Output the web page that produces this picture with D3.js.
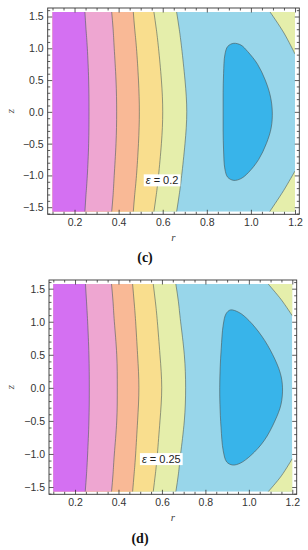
<!DOCTYPE html>
<html>
<head>
<meta charset="utf-8">
<script src="https://cdn.jsdelivr.net/npm/d3@7"></script>
<style>
  body { margin: 0; background: #fff; }
  svg { display: block; }
  .tick text { font-family: "Liberation Sans", Arial, sans-serif; font-size: 10.5px; fill: #333; }
  .tick line { stroke: #333; stroke-width: 0.8; }
</style>
</head>
<body>
<svg id="chart" width="308" height="550"></svg>
<script>
// z samples at which the contour boundaries were read
const zGrid = [-1.5708, -1.3, -1.0, -0.5, 0, 0.5, 1.0, 1.3, 1.5708];

// r position of each contour boundary (left to right), eps = 0.2
const boundsC = [
  [0.247, 0.252, 0.258, 0.264, 0.2656, 0.264, 0.258, 0.252, 0.247],
  [0.3685, 0.375, 0.380, 0.388, 0.391, 0.388, 0.380, 0.375, 0.3685],
  [0.4665, 0.473, 0.481, 0.490, 0.494, 0.490, 0.481, 0.473, 0.4665],
  [0.560, 0.571, 0.581, 0.594, 0.600, 0.594, 0.581, 0.571, 0.560],
  [0.663, 0.675, 0.686, 0.701, 0.709, 0.701, 0.686, 0.675, 0.663]
];
// eps = 0.25
const boundsD = [
  [0.247, 0.253, 0.258, 0.264, 0.2657, 0.264, 0.258, 0.253, 0.248],
  [0.368, 0.375, 0.381, 0.392, 0.3945, 0.392, 0.381, 0.375, 0.368],
  [0.465, 0.472, 0.479, 0.488, 0.494, 0.488, 0.479, 0.472, 0.465],
  [0.560, 0.570, 0.579, 0.591, 0.599, 0.591, 0.579, 0.570, 0.560],
  [0.664, 0.676, 0.686, 0.703, 0.709, 0.703, 0.686, 0.676, 0.664]
];

// inner closed contour (r, z)
const ovalC = [
  [0.922, 1.078], [0.955, 1.05], [0.985, 0.95], [1.030, 0.75], [1.065, 0.50],
  [1.088, 0.25], [1.097, 0.0], [1.092, -0.25], [1.070, -0.50], [1.035, -0.75],
  [0.990, -0.95], [0.955, -1.05], [0.922, -1.078], [0.895, -1.03], [0.882, -0.90],
  [0.876, -0.60], [0.874, -0.30], [0.874, 0.0], [0.874, 0.30], [0.876, 0.60],
  [0.882, 0.90], [0.895, 1.03]
];
const ovalD = [
  [0.915, 1.178], [0.955, 1.14], [1.000, 1.02], [1.060, 0.78], [1.110, 0.50],
  [1.145, 0.22], [1.155, 0.0], [1.148, -0.25], [1.120, -0.50], [1.070, -0.80],
  [1.010, -1.02], [0.960, -1.14], [0.925, -1.167], [0.898, -1.12], [0.882, -0.95],
  [0.872, -0.60], [0.867, -0.25], [0.866, 0.0], [0.868, 0.30], [0.873, 0.60],
  [0.882, 0.95], [0.895, 1.12]
];

// corner contours at the right edge
const cornersC = [
  [[1.087, 1.5708], [1.150, 1.24], [1.2, 0.91]],
  [[1.085, -1.5708], [1.148, -1.24], [1.2, -0.93]]
];
const cornersD = [
  [[1.089, 1.5708], [1.150, 1.33], [1.2, 1.09]],
  [[1.089, -1.5708], [1.150, -1.33], [1.2, -1.07]]
];

const rTicks = [0.2, 0.4, 0.6, 0.8, 1.0, 1.2];
const zTicks = [-1.5, -1.0, -0.5, 0.0, 0.5, 1.0, 1.5];

// fill colours from left region to inner region
const bandColors = ["#d470f2", "#eea6d1", "#f9b996", "#f9de8e", "#e5eeab", "#98d6ea"];
const ovalColor = "#38b4ea";
const lineColor = "#4d5c5c";

const svg = d3.select("#chart");

function drawPanel(opt) {
  const g = svg.append("g");
  const x = d3.scaleLinear().domain([0.1, 1.2]).range([opt.px0, opt.px1]);
  const y = d3.scaleLinear().domain([-Math.PI / 2, Math.PI / 2]).range([opt.py1, opt.py0]);

  const clipId = "clip-" + opt.id;
  g.append("clipPath").attr("id", clipId)
    .append("rect")
    .attr("x", opt.px0).attr("y", opt.py0)
    .attr("width", opt.px1 - opt.px0).attr("height", opt.py1 - opt.py0);

  const plot = g.append("g").attr("clip-path", `url(#${clipId})`);

  plot.append("rect")
    .attr("x", opt.px0).attr("y", opt.py0)
    .attr("width", opt.px1 - opt.px0).attr("height", opt.py1 - opt.py0)
    .attr("fill", bandColors[5]);

  const pts = b => b.map((r, i) => ({ r: r, z: zGrid[i] }));

  const area = d3.area()
    .curve(d3.curveNatural)
    .y(d => y(d.z))
    .x0(opt.px0 - 5)
    .x1(d => x(d.r));

  const line = d3.line()
    .curve(d3.curveNatural)
    .x(d => x(d.r))
    .y(d => y(d.z));

  // paint from the right-most boundary to the left-most
  for (let k = opt.bounds.length - 1; k >= 0; k--) {
    plot.append("path")
      .attr("d", area(pts(opt.bounds[k])))
      .attr("fill", bandColors[k]);
  }

  // corners
  const cornerLine = d3.line().curve(d3.curveCatmullRom)
    .x(d => x(d[0])).y(d => y(d[1]));
  opt.corners.forEach(c => {
    const top = c[0][1] > 0;
    const yEdge = top ? opt.py0 - 5 : opt.py1 + 5;
    plot.append("path")
      .attr("d", cornerLine(c) + `L${opt.px1 + 5},${y(c[2][1])}L${opt.px1 + 5},${yEdge}L${x(c[0][0])},${yEdge}Z`)
      .attr("fill", bandColors[4]);
    plot.append("path")
      .attr("d", cornerLine(c))
      .attr("fill", "none")
      .attr("stroke", lineColor)
      .attr("stroke-opacity", 0.75)
      .attr("stroke-width", 0.8);
  });

  opt.bounds.forEach(b => {
    plot.append("path")
      .attr("d", line(pts(b)))
      .attr("fill", "none")
      .attr("stroke", lineColor)
      .attr("stroke-opacity", 0.75)
      .attr("stroke-width", 0.8);
  });

  const ovalLine = d3.line().curve(d3.curveCatmullRomClosed)
    .x(d => x(d[0])).y(d => y(d[1]));
  plot.append("path")
    .attr("d", ovalLine(opt.oval))
    .attr("fill", ovalColor)
    .attr("stroke", lineColor)
    .attr("stroke-opacity", 0.8)
    .attr("stroke-width", 0.8);

  // label box
  const lab = g.append("g")
    .attr("transform", `translate(${x(0.597)},${y(-1.08)})`);
  const bg = lab.append("rect").attr("fill", "#fff");
  const t = lab.append("text")
    .attr("text-anchor", "middle")
    .attr("dy", "0.35em")
    .style("font-family", "Liberation Sans, Arial, sans-serif")
    .style("font-size", "11px")
    .attr("fill", "#222");
  t.append("tspan").style("font-style", "italic").text("\u03b5");
  t.append("tspan").text(" = " + opt.eps);
  const bb = t.node().getBBox();
  bg.attr("x", bb.x - 2).attr("y", bb.y).attr("width", bb.width + 4).attr("height", bb.height);

  // frame
  const fx = d3.scaleLinear().domain(x.domain()).range(x.range());
  const fy = d3.scaleLinear().domain(y.domain()).range(y.range());
  const rMinor = d3.range(0.1, 1.2001, 0.05).filter(v => Math.abs(v * 5 - Math.round(v * 5)) > 1e-6);
  const zMinor = d3.range(-1.6, 1.6001, 0.1).filter(v => Math.abs(v * 2 - Math.round(v * 2)) > 1e-6);
  const fmt = d3.format(".1f");

  const axes = [
    { a: d3.axisBottom(fx), tr: `translate(0,${opt.fy1})`, vals: rTicks, minor: rMinor, lab: true },
    { a: d3.axisTop(fx), tr: `translate(0,${opt.fy0})`, vals: rTicks, minor: rMinor, lab: false },
    { a: d3.axisLeft(fy), tr: `translate(${opt.fx0},0)`, vals: zTicks, minor: zMinor, lab: true },
    { a: d3.axisRight(fy), tr: `translate(${opt.fx1},0)`, vals: zTicks, minor: zMinor, lab: false }
  ];
  axes.forEach(ax => {
    g.append("g").attr("transform", ax.tr)
      .call(ax.a.tickValues(ax.minor).tickSize(-2.5).tickFormat(""))
      .call(s => s.select(".domain").remove());
    g.append("g").attr("transform", ax.tr)
      .call(ax.a.tickValues(ax.vals).tickSize(-4.5).tickPadding(4)
        .tickFormat(ax.lab ? fmt : ""))
      .call(s => s.select(".domain").remove());
  });

  g.append("rect")
    .attr("x", opt.fx0).attr("y", opt.fy0)
    .attr("width", opt.fx1 - opt.fx0).attr("height", opt.fy1 - opt.fy0)
    .attr("fill", "none").attr("stroke", "#333").attr("stroke-width", 0.9);

  g.append("text")
    .attr("transform", `translate(14,${(opt.fy0 + opt.fy1) / 2}) rotate(-90)`)
    .attr("text-anchor", "middle")
    .style("font-family", "Liberation Serif, serif")
    .style("font-style", "italic")
    .style("font-size", "11px")
    .attr("fill", "#444")
    .text("z");

  g.append("text")
    .attr("x", (opt.fx0 + opt.fx1) / 2)
    .attr("y", opt.fy1 + 26.5)
    .attr("text-anchor", "middle")
    .style("font-family", "Liberation Serif, serif")
    .style("font-style", "italic")
    .style("font-size", "11px")
    .attr("fill", "#444")
    .text("r");

  g.append("text")
    .attr("x", opt.capX)
    .attr("y", opt.capY)
    .attr("text-anchor", "middle")
    .style("font-family", "Liberation Serif, serif")
    .style("font-weight", "bold")
    .style("font-size", "14px")
    .attr("fill", "#111")
    .text(opt.caption);
}

drawPanel({
  id: "c", eps: "0.2", caption: "(c)",
  bounds: boundsC, oval: ovalC, corners: cornersC,
  px0: 52.5, px1: 295, py0: 12, py1: 211.7,
  fx0: 47.7, fx1: 299.3, fy0: 8, fy1: 214.3,
  capX: 145, capY: 262
});

drawPanel({
  id: "d", eps: "0.25", caption: "(d)",
  bounds: boundsD, oval: ovalD, corners: cornersD,
  px0: 53.3, px1: 292.3, py0: 284, py1: 491.7,
  fx0: 49, fx1: 296.7, fy0: 280, fy1: 494.3,
  capX: 140, capY: 543
});
</script>
</body>
</html>
